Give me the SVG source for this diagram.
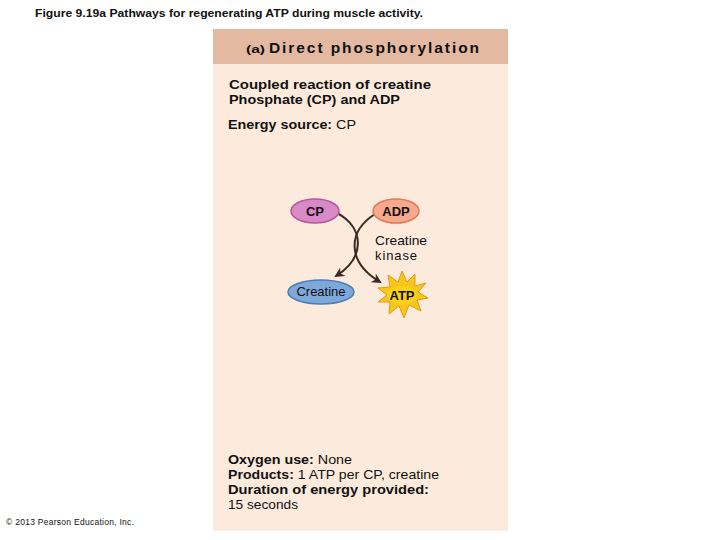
<svg xmlns="http://www.w3.org/2000/svg" width="720" height="540" viewBox="0 0 720 540">
<style>
.t{font-family:"Liberation Sans",Arial,sans-serif;fill:#111}
.b{font-weight:bold}
.conn{fill:none;stroke:#3a2a22;stroke-width:2}
</style>
<defs>
<marker id="ah" viewBox="0 0 10 10" refX="8" refY="5" markerWidth="5" markerHeight="5" orient="auto">
<path d="M0,0 L10,5 L0,10 L3,5 Z" fill="#3a2a22"/>
</marker>
</defs>
<rect width="720" height="540" fill="#fff"/>
<text class="t b" x="35" y="17" font-size="11.5" textLength="388" lengthAdjust="spacingAndGlyphs">Figure 9.19a  Pathways for regenerating ATP during muscle activity.</text>
<g id="panel">
<rect x="213" y="29" width="295" height="502" fill="#fcebdc"/>
<rect x="213" y="29" width="295" height="35" fill="#e3b9a1"/>
<text class="t b" x="246" y="53" font-size="11.5" textLength="19" lengthAdjust="spacingAndGlyphs">(a)</text>
<text class="t b" x="269" y="53" font-size="15.5" textLength="210" lengthAdjust="spacing">Direct phosphorylation</text>
<text class="t b" x="229" y="89" font-size="13.5" textLength="202" lengthAdjust="spacingAndGlyphs">Coupled reaction of creatine</text>
<text class="t b" x="229" y="104" font-size="13.5" textLength="171" lengthAdjust="spacingAndGlyphs">Phosphate (CP) and ADP</text>
<text class="t" x="228" y="129" font-size="13.5" textLength="128" lengthAdjust="spacingAndGlyphs"><tspan class="b">Energy source:</tspan> CP</text>
<text class="t" x="228" y="464" font-size="13.5" textLength="124" lengthAdjust="spacingAndGlyphs"><tspan class="b">Oxygen use:</tspan> None</text>
<text class="t" x="228" y="479" font-size="13.5" textLength="211" lengthAdjust="spacingAndGlyphs"><tspan class="b">Products:</tspan> 1 ATP per CP, creatine</text>
<text class="t b" x="228" y="494" font-size="13.5" textLength="201" lengthAdjust="spacingAndGlyphs">Duration of energy provided:</text>
<text class="t" x="228" y="509" font-size="13.5" textLength="70" lengthAdjust="spacingAndGlyphs">15 seconds</text>
</g>
<g id="connectors">
<path class="conn" d="M337,213 C365,228 365,258 336,276" marker-end="url(#ah)"/>
<path class="conn" d="M375,214 C347,232 347,262 380,282" marker-end="url(#ah)"/>
</g>
<g id="cp">
<ellipse cx="315" cy="211" rx="24" ry="12" fill="#d98ac6" stroke="#b8559f" stroke-width="1.5"/>
<text class="t b" x="315" y="216" font-size="13" text-anchor="middle">CP</text>
</g>
<g id="adp">
<ellipse cx="396" cy="211" rx="23" ry="12" fill="#f6a98c" stroke="#e27a5a" stroke-width="1.5"/>
<text class="t b" x="396" y="216" font-size="13" text-anchor="middle">ADP</text>
</g>
<g id="kinase">
<text class="t" x="375" y="245" font-size="13" textLength="52" lengthAdjust="spacingAndGlyphs">Creatine</text>
<text class="t" x="375" y="260" font-size="13" textLength="42" lengthAdjust="spacing">kinase</text>
</g>
<g id="creatine">
<ellipse cx="321" cy="292" rx="33" ry="12" fill="#7fa8da" stroke="#4b7bb8" stroke-width="1.5"/>
<text class="t" x="321" y="296" font-size="13" text-anchor="middle">Creatine</text>
</g>
<g id="atp">
<polygon points="402,271 407,282 415,274 415,286 426,283 418,292 428,298 417,300 421,311 409,305 404,318 399,306 389,314 390,302 378,302 387,295 378,288 390,287 388,275 398,282" fill="#f7c51c" stroke="#e39a10" stroke-width="1"/>
<ellipse cx="402" cy="295" rx="15" ry="9" fill="#fbd21a"/>
<text class="t b" x="402" y="300" font-size="13" text-anchor="middle">ATP</text>
</g>
<text class="t" x="6" y="525" font-size="8.5" textLength="128" lengthAdjust="spacing">© 2013 Pearson Education, Inc.</text>
</svg>
